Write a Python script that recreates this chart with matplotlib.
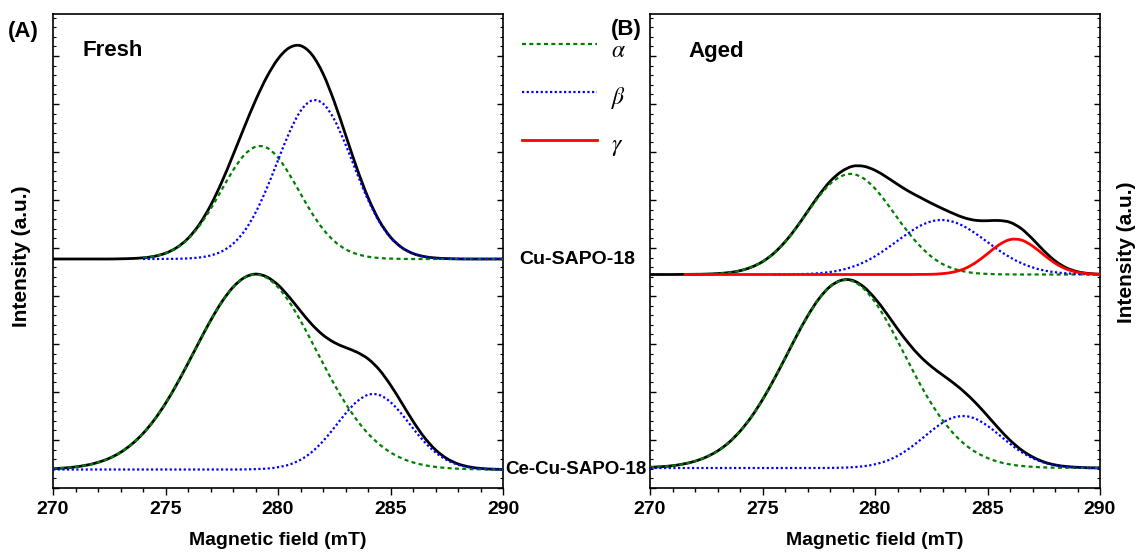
import numpy as np
import matplotlib
matplotlib.use("Agg")
import matplotlib.pyplot as plt
from matplotlib.ticker import MultipleLocator, NullFormatter
from matplotlib.path import Path
from matplotlib.patches import PathPatch
from matplotlib.lines import Line2D

plt.rcParams['font.family'] = ['Liberation Sans', 'DejaVu Sans']
plt.rcParams['mathtext.fontset'] = 'stix'

# ---------------- data (arbitrary intensity units) ----
field_mT = np.arange(270.0, 290.5, 0.5)

fresh_cu_alpha = [0, 0, 0, 0, 0, 0, 0.2, 0.5, 1.2, 2.7, 5.7, 11.2, 20.0, 33.0, 49.9, 69.3,
                  88.6, 104.0, 112.2, 111.3, 101.4, 84.9, 65.4, 46.2, 30.0, 17.9, 9.8, 5.0,
                  2.3, 1.0, 0.4, 0.1, 0, 0, 0, 0, 0, 0, 0, 0, 0]
fresh_cu_beta = [0, 0, 0, 0, 0, 0, 0, 0, 0, 0, 0.1, 0.2, 0.6, 1.5, 3.5, 7.6, 15.2, 27.7,
                 46.3, 70.6, 98.7, 126.3, 147.9, 158.4, 155.4, 139.5, 114.6, 86.1, 59.3,
                 37.3, 21.5, 11.4, 5.5, 2.4, 1.0, 0.4, 0.1, 0, 0, 0, 0]
fresh_ce_alpha = [0.8, 1.5, 2.6, 4.4, 7.1, 11.2, 17.1, 25.3, 36.0, 49.6, 66.1, 85.2, 106.2,
                  127.8, 148.8, 167.5, 182.3, 191.7, 195.0, 191.7, 182.3, 167.5, 148.8,
                  127.8, 106.2, 85.2, 66.1, 49.6, 36.0, 25.3, 17.1, 11.2, 7.1, 4.4, 2.6,
                  1.5, 0.8, 0.4, 0.2, 0.1, 0.0]
fresh_ce_beta = [0, 0, 0, 0, 0, 0, 0, 0, 0, 0, 0, 0, 0, 0, 0, 0, 0.0, 0.1, 0.4, 0.9, 2.3,
                 4.9, 9.7, 17.4, 28.3, 41.8, 55.9, 67.8, 74.7, 74.5, 67.4, 55.4, 41.2, 27.8,
                 17.1, 9.5, 4.8, 2.2, 0.9, 0.3, 0.1]

aged_cu_alpha = [0, 0, 0, 0.1, 0.2, 0.4, 0.9, 1.9, 3.8, 7.3, 12.8, 21.1, 32.5, 46.5, 62.3,
                 77.7, 90.5, 98.3, 100.5, 96.0, 86.0, 72.0, 56.5, 41.5, 28.5, 18.0, 10.5, 5.8,
                 2.9, 1.3, 0.6, 0.2, 0.1, 0, 0, 0, 0, 0, 0, 0, 0]
aged_cu_beta = [0, 0, 0, 0, 0, 0, 0, 0, 0, 0, 0.0, 0.1, 0.1, 0.3, 0.6, 1.3, 2.5, 4.5, 7.7,
                12.2, 18.2, 25.6, 33.7, 41.7, 48.6, 53.1, 54.5, 52.5, 47.6, 40.5, 32.4, 24.3,
                17.2, 11.4, 7.1, 4.1, 2.3, 1.2, 0.6, 0.3, 0.1]
aged_cu_gamma = [0, 0, 0, 0, 0, 0, 0, 0, 0, 0, 0, 0, 0, 0, 0, 0, 0, 0, 0, 0, 0, 0, 0, 0,
                 0.1, 0.2, 0.9, 2.5, 6.0, 12.3, 20.8, 29.5, 34.9, 34.5, 28.5, 19.7, 11.4,
                 5.5, 2.2, 0.7, 0.2]
aged_ce_alpha = [0.7, 1.3, 2.3, 4.1, 6.8, 11.0, 17.0, 25.4, 36.7, 51.0, 68.3, 88.2, 109.6,
                 131.4, 151.8, 169.0, 181.3, 187.4, 186.8, 179.3, 165.9, 148.0, 127.1, 105.3,
                 84.0, 64.6, 47.9, 34.2, 23.5, 15.6, 10.0, 6.1, 3.6, 2.1, 1.2, 0.6, 0.3,
                 0.2, 0.1, 0, 0]
aged_ce_beta = [0, 0, 0, 0, 0, 0, 0, 0, 0, 0, 0, 0, 0, 0, 0, 0, 0.1, 0.3, 0.8, 1.8, 3.7,
                7.0, 12.1, 19.2, 27.8, 37.0, 45.2, 50.6, 51.9, 48.9, 42.2, 33.4, 24.2, 16.1,
                9.9, 5.5, 2.8, 1.3, 0.6, 0.2, 0.1]

sample_labels = ["Cu-SAPO-18", "Ce-Cu-SAPO-18"]
component_labels = [r"$\alpha$", r"$\beta$", r"$\gamma$"]
panel_titles = ["Fresh", "Aged"]
panel_tags = ["(A)", "(B)"]
xticks = [270, 275, 280, 285, 290]

# ---------------- layout / style -------------------------------------------
W, H = 1138, 552
offset_top = {"fresh": 229.0, "aged": 213.5}
offset_bot = {"fresh": 18.5, "aged": 20.0}
YMAX = 474.0

GREEN = dict(color="#008000", lw=1.6, ls=(0, (1.8, 1.5)))
BLUE = dict(color="#0000ff", lw=1.6, ls=(0, (1.0, 1.1)))
RED = dict(color="#ff0000", lw=2.0, ls="-")
BLACK = dict(color="black", lw=2.0, ls="-")

fig = plt.figure(figsize=(W / 100, H / 100), dpi=100)


def px_axes(x0, x1, y0, y1):
    return fig.add_axes([x0 / W, 1 - y1 / H, (x1 - x0) / W, (y1 - y0) / H])


axA = px_axes(53, 503, 14, 488)
axB = px_axes(650, 1100, 14, 488)

x = field_mT


def smooth_line(ax, xs, ys, style, z):
    """Draw a smooth (Catmull-Rom) curve passing through the given points."""
    P = np.column_stack([xs, ys])
    n = len(P)
    verts = [P[0]]
    codes = [Path.MOVETO]
    for i in range(n - 1):
        p0 = P[i - 1] if i > 0 else P[i]
        p1, p2 = P[i], P[i + 1]
        p3 = P[i + 2] if i + 2 < n else P[i + 1]
        verts += [p1 + (p2 - p0) / 6.0, p2 - (p3 - p1) / 6.0, p2]
        codes += [Path.CURVE4] * 3
    patch = PathPatch(Path(verts, codes), fill=False, edgecolor=style["color"],
                      lw=style["lw"], linestyle=style["ls"], zorder=z,
                      capstyle="butt", joinstyle="round", transform=ax.transData)
    ax.add_patch(patch)


def draw_stack(ax, comps, start, base):
    comps = [np.asarray(c, dtype=float) for c in comps]
    total = np.sum(comps, axis=0)
    smooth_line(ax, x, total + base, BLACK, 3)
    styles = [GREEN, BLUE, RED]
    for c, st, s in zip(comps, styles, start):
        smooth_line(ax, x[s:], c[s:] + base, st, 4)


# Fresh
draw_stack(axA, [fresh_cu_alpha, fresh_cu_beta], [8, 8], offset_top["fresh"])
draw_stack(axA, [fresh_ce_alpha, fresh_ce_beta], [0, 0], offset_bot["fresh"])
# Aged
draw_stack(axB, [aged_cu_alpha, aged_cu_beta, aged_cu_gamma], [3, 11, 3], offset_top["aged"])
draw_stack(axB, [aged_ce_alpha, aged_ce_beta], [0, 0], offset_bot["aged"])

for ax in (axA, axB):
    ax.set_xlim(270, 290)
    ax.set_ylim(0, YMAX)
    ax.set_xticks(xticks)
    ax.xaxis.set_minor_locator(MultipleLocator(1))
    ax.tick_params(axis="x", which="major", direction="out", length=5, width=1,
                   labelsize=14, pad=4)
    ax.tick_params(axis="x", which="minor", direction="out", length=3, width=1)
    for lab in ax.get_xticklabels():
        lab.set_fontweight("bold")
    ax.yaxis.set_major_locator(MultipleLocator(48))
    ax.yaxis.set_minor_locator(MultipleLocator(9.6))
    ax.yaxis.set_major_formatter(NullFormatter())
    ax.tick_params(axis="y", which="both", left=True, right=True, labelleft=False,
                   direction="in")
    ax.tick_params(axis="y", which="major", length=4, width=1)
    ax.tick_params(axis="y", which="minor", length=2, width=0.8)
    for sp in ax.spines.values():
        sp.set_linewidth(1.2)
    ax.set_xlabel("Magnetic field (mT)", fontsize=14, fontweight="bold", labelpad=10.5)

# panel titles & tags
fig.text(83 / W, 1 - 51 / H, panel_titles[0], fontsize=16, fontweight="bold",
         ha="left", va="center")
fig.text(688 / W, 1 - 51 / H, panel_titles[1], fontsize=16, fontweight="bold",
         ha="left", va="center")
fig.text(8 / W, 1 - 32 / H, panel_tags[0], fontsize=16, fontweight="bold",
         ha="left", va="center")
fig.text(611 / W, 1 - 29 / H, panel_tags[1], fontsize=16, fontweight="bold",
         ha="left", va="center")

# sample labels
fig.text(577 / W, 1 - 260 / H, sample_labels[0], fontsize=14, fontweight="bold",
         ha="center", va="center")
fig.text(505 / W, 1 - 469 / H, sample_labels[1], fontsize=13.5, fontweight="bold",
         ha="left", va="center")

# y labels
fig.text(22 / W, 1 - 256 / H, "Intensity (a.u.)", fontsize=15, fontweight="bold",
         rotation=90, ha="center", va="center")
fig.text(1126 / W, 1 - 252 / H, "Intensity (a.u.)", fontsize=15, fontweight="bold",
         rotation=90, ha="center", va="center")

# legend (keys and labels placed in the gap between the panels)
leg_line_y = [44, 92, 140]
leg_text_base = [57, 104, 151]
for st, lab, ly, ty in zip([GREEN, BLUE, RED], component_labels, leg_line_y, leg_text_base):
    fig.add_artist(Line2D([522 / W, 597 / W], [1 - ly / H, 1 - ly / H],
                          transform=fig.transFigure, **st))
    fig.text(611 / W, 1 - ty / H, lab, fontsize=17, ha="left", va="baseline")

fig.savefig("out.png", dpi=100)
